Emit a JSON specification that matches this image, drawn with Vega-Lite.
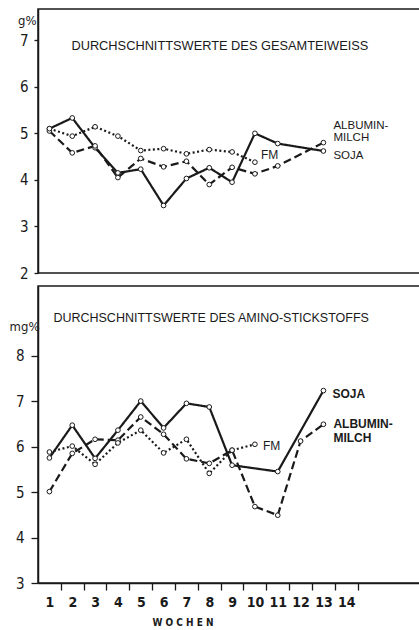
{
  "$schema": "https://vega.github.io/schema/vega-lite/v6.json",
  "autosize": {"type": "pad"},
  "padding": {"left": 8, "top": 8, "right": 0, "bottom": 2},
  "background": "white",
  "bounds": "flush",
  "spacing": 13,
  "config": {
    "view": {"stroke": "#1a1a1a", "strokeWidth": 1.5},
    "axis": {
      "grid": false,
      "domainColor": "#1a1a1a",
      "domainWidth": 1.5,
      "tickColor": "#1a1a1a",
      "tickWidth": 1.3,
      "labelColor": "#1a1a1a",
      "titleColor": "#1a1a1a",
      "labelFont": "Liberation Sans Narrow, DejaVu Sans Condensed, Liberation Sans",
      "titleFont": "Liberation Sans Narrow, DejaVu Sans Condensed, Liberation Sans"
    },
    "title": {"font": "Liberation Sans", "fontWeight": "normal", "color": "#1a1a1a"},
    "text": {"font": "Liberation Sans", "color": "#1a1a1a"}
  },
  "datasets": {
    "gesamt": [
      {"series": "SOJA", "week": 1, "value": 5.10},
      {"series": "SOJA", "week": 2, "value": 5.33},
      {"series": "SOJA", "week": 3, "value": 4.69},
      {"series": "SOJA", "week": 4, "value": 4.15},
      {"series": "SOJA", "week": 5, "value": 4.23},
      {"series": "SOJA", "week": 6, "value": 3.45},
      {"series": "SOJA", "week": 7, "value": 4.03},
      {"series": "SOJA", "week": 8, "value": 4.26},
      {"series": "SOJA", "week": 9, "value": 3.95},
      {"series": "SOJA", "week": 10, "value": 5.00},
      {"series": "SOJA", "week": 11, "value": 4.78},
      {"series": "SOJA", "week": 13, "value": 4.62},
      {"series": "ALBUMIN-MILCH", "week": 1, "value": 5.05},
      {"series": "ALBUMIN-MILCH", "week": 2, "value": 4.58},
      {"series": "ALBUMIN-MILCH", "week": 3, "value": 4.73},
      {"series": "ALBUMIN-MILCH", "week": 4, "value": 4.05},
      {"series": "ALBUMIN-MILCH", "week": 5, "value": 4.46},
      {"series": "ALBUMIN-MILCH", "week": 6, "value": 4.28},
      {"series": "ALBUMIN-MILCH", "week": 7, "value": 4.40},
      {"series": "ALBUMIN-MILCH", "week": 8, "value": 3.90},
      {"series": "ALBUMIN-MILCH", "week": 9, "value": 4.27},
      {"series": "ALBUMIN-MILCH", "week": 10, "value": 4.13},
      {"series": "ALBUMIN-MILCH", "week": 11, "value": 4.30},
      {"series": "ALBUMIN-MILCH", "week": 13, "value": 4.80},
      {"series": "FM", "week": 1, "value": 5.10},
      {"series": "FM", "week": 2, "value": 4.94},
      {"series": "FM", "week": 3, "value": 5.14},
      {"series": "FM", "week": 4, "value": 4.94},
      {"series": "FM", "week": 5, "value": 4.63},
      {"series": "FM", "week": 6, "value": 4.67},
      {"series": "FM", "week": 7, "value": 4.56},
      {"series": "FM", "week": 8, "value": 4.65},
      {"series": "FM", "week": 9, "value": 4.60},
      {"series": "FM", "week": 10, "value": 4.38}
    ],
    "amino": [
      {"series": "SOJA", "week": 1, "value": 5.75},
      {"series": "SOJA", "week": 2, "value": 6.47},
      {"series": "SOJA", "week": 3, "value": 5.74},
      {"series": "SOJA", "week": 4, "value": 6.36},
      {"series": "SOJA", "week": 5, "value": 7.00},
      {"series": "SOJA", "week": 6, "value": 6.41},
      {"series": "SOJA", "week": 7, "value": 6.95},
      {"series": "SOJA", "week": 8, "value": 6.87},
      {"series": "SOJA", "week": 9, "value": 5.59},
      {"series": "SOJA", "week": 11, "value": 5.45},
      {"series": "SOJA", "week": 13, "value": 7.23},
      {"series": "ALBUMIN-MILCH", "week": 1, "value": 5.01},
      {"series": "ALBUMIN-MILCH", "week": 2, "value": 5.85},
      {"series": "ALBUMIN-MILCH", "week": 3, "value": 6.16},
      {"series": "ALBUMIN-MILCH", "week": 4, "value": 6.14},
      {"series": "ALBUMIN-MILCH", "week": 5, "value": 6.65},
      {"series": "ALBUMIN-MILCH", "week": 6, "value": 6.27},
      {"series": "ALBUMIN-MILCH", "week": 7, "value": 5.73},
      {"series": "ALBUMIN-MILCH", "week": 8, "value": 5.63},
      {"series": "ALBUMIN-MILCH", "week": 9, "value": 5.92},
      {"series": "ALBUMIN-MILCH", "week": 10, "value": 4.68},
      {"series": "ALBUMIN-MILCH", "week": 11, "value": 4.49},
      {"series": "ALBUMIN-MILCH", "week": 12, "value": 6.12},
      {"series": "ALBUMIN-MILCH", "week": 13, "value": 6.49},
      {"series": "FM", "week": 1, "value": 5.88},
      {"series": "FM", "week": 2, "value": 6.01},
      {"series": "FM", "week": 3, "value": 5.61},
      {"series": "FM", "week": 4, "value": 6.08},
      {"series": "FM", "week": 5, "value": 6.36},
      {"series": "FM", "week": 6, "value": 5.86},
      {"series": "FM", "week": 7, "value": 6.16},
      {"series": "FM", "week": 8, "value": 5.41},
      {"series": "FM", "week": 9, "value": 5.92},
      {"series": "FM", "week": 10, "value": 6.05}
    ]
  },
  "vconcat": [
    {
      "width": 382,
      "height": 264,
      "data": {"name": "gesamt"},
      "title": {
        "text": "DURCHSCHNITTSWERTE DES GESAMTEIWEISS",
        "anchor": "start",
        "frame": "group",
        "orient": "top",
        "offset": 0,
        "dx": 33.4,
        "dy": 50,
        "baseline": "middle",
        "fontSize": 12.8
      },
      "encoding": {
        "x": {"field": "week", "type": "quantitative", "scale": {"domain": [0.5, 17.23], "nice": false, "zero": false}, "axis": null},
        "y": {
          "field": "value", "type": "quantitative",
          "scale": {"domain": [2, 7.67], "nice": false, "zero": false},
          "axis": {
            "values": [2, 3, 4, 5, 6, 7],
            "tickSize": 4,
            "labelPadding": 6,
            "labelFontSize": 15,
            "title": "g%",
            "titleAngle": 0,
            "titleAlign": "right",
            "titleBaseline": "alphabetic",
            "titleX": -2,
            "titleY": 15,
            "titleFontSize": 13,
            "titleFontWeight": "normal"
          }
        }
      },
      "layer": [
        {
          "mark": {"type": "line", "strokeWidth": 2.2, "color": "#1a1a1a"},
          "encoding": {
            "strokeDash": {
              "field": "series", "type": "nominal",
              "scale": {"domain": ["SOJA", "ALBUMIN-MILCH", "FM"], "range": [[1, 0], [8, 4], [2, 2.5]]},
              "legend": null
            }
          }
        },
        {
          "mark": {"type": "point", "filled": true, "fill": "white", "stroke": "#1a1a1a", "strokeWidth": 1, "size": 22, "opacity": 1}
        },
        {
          "transform": [{"filter": "datum.series == 'SOJA' && datum.week == 13"}],
          "mark": {"type": "text", "text": "SOJA", "align": "left", "baseline": "middle", "dx": 10, "dy": 5, "fontSize": 11.5}
        },
        {
          "transform": [{"filter": "datum.series == 'ALBUMIN-MILCH' && datum.week == 13"}],
          "mark": {"type": "text", "text": ["ALBUMIN-", "MILCH"], "align": "left", "baseline": "middle", "dx": 10, "dy": -17, "fontSize": 11.5, "lineHeight": 12}
        },
        {
          "transform": [{"filter": "datum.series == 'FM' && datum.week == 10"}],
          "mark": {"type": "text", "text": "FM", "align": "left", "baseline": "middle", "dx": 6, "dy": -7, "fontSize": 12}
        }
      ]
    },
    {
      "width": 382,
      "height": 297,
      "data": {"name": "amino"},
      "title": {
        "text": "DURCHSCHNITTSWERTE DES AMINO-STICKSTOFFS",
        "anchor": "start",
        "frame": "group",
        "orient": "top",
        "offset": 0,
        "dx": 15.4,
        "dy": 44,
        "baseline": "middle",
        "fontSize": 12.5
      },
      "encoding": {
        "x": {
          "field": "week", "type": "quantitative",
          "scale": {"domain": [0.5, 17.23], "nice": false, "zero": false},
          "axis": {
            "values": [1.5, 2.5, 3.5, 4.5, 5.5, 6.5, 7.5, 8.5, 9.5, 10.5, 11.5, 12.5, 13.5, 14.5],
            "labelExpr": "floor(datum.value)",
            "labelOffset": -11.4,
            "labelFlush": false,
            "tickSize": 7,
            "labelPadding": 5,
            "labelFontSize": 14,
            "labelFontWeight": "bold",
            "title": "W O C H E N",
            "titleFontSize": 10,
            "titleFontWeight": "bold",
            "titleX": 144.5,
            "titleY": 39,
            "titleBaseline": "middle"
          }
        },
        "y": {
          "field": "value", "type": "quantitative",
          "scale": {"domain": [3, 9.53], "nice": false, "zero": false},
          "axis": {
            "values": [3, 4, 5, 6, 7, 8],
            "tickSize": 7,
            "labelPadding": 7,
            "labelFontSize": 15,
            "title": "mg%",
            "titleAngle": 0,
            "titleAlign": "right",
            "titleBaseline": "alphabetic",
            "titleX": 1,
            "titleY": 44,
            "titleFontSize": 13,
            "titleFontWeight": "normal"
          }
        }
      },
      "layer": [
        {
          "mark": {"type": "line", "strokeWidth": 2.2, "color": "#1a1a1a"},
          "encoding": {
            "strokeDash": {
              "field": "series", "type": "nominal",
              "scale": {"domain": ["SOJA", "ALBUMIN-MILCH", "FM"], "range": [[1, 0], [8, 4], [2, 2.5]]},
              "legend": null
            }
          }
        },
        {
          "mark": {"type": "point", "filled": true, "fill": "white", "stroke": "#1a1a1a", "strokeWidth": 1, "size": 22, "opacity": 1}
        },
        {
          "transform": [{"filter": "datum.series == 'SOJA' && datum.week == 13"}],
          "mark": {"type": "text", "text": "SOJA", "align": "left", "baseline": "middle", "dx": 9, "dy": 3, "fontSize": 12, "fontWeight": "bold"}
        },
        {
          "transform": [{"filter": "datum.series == 'ALBUMIN-MILCH' && datum.week == 13"}],
          "mark": {"type": "text", "text": ["ALBUMIN-", "MILCH"], "align": "left", "baseline": "middle", "dx": 10, "dy": 0, "fontSize": 12, "fontWeight": "bold", "lineHeight": 14}
        },
        {
          "transform": [{"filter": "datum.series == 'FM' && datum.week == 10"}],
          "mark": {"type": "text", "text": "FM", "align": "left", "baseline": "middle", "dx": 8, "dy": 2, "fontSize": 12}
        }
      ]
    }
  ]
}
